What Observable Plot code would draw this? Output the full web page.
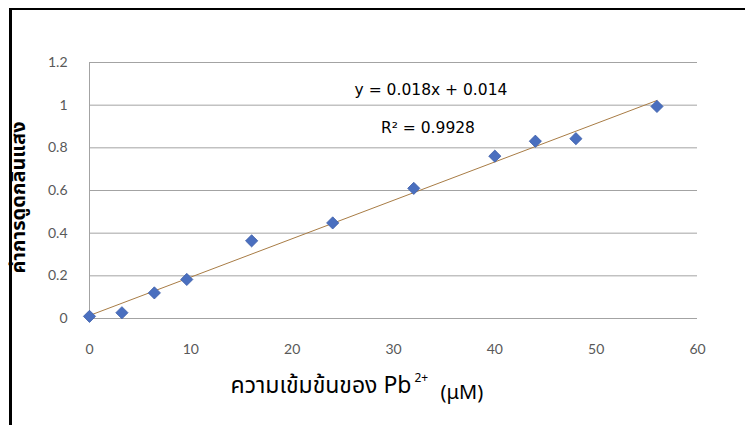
<!DOCTYPE html>
<html>
<head>
<meta charset="utf-8">
<script src="https://cdn.jsdelivr.net/npm/d3@7"></script>
<script src="https://cdn.jsdelivr.net/npm/@observablehq/plot@0.6"></script>
<style>
  html, body { margin: 0; padding: 0; background: #fff; }
  #wrap { position: relative; width: 745px; height: 425px; overflow: hidden; }
  #border { position: absolute; left: 9px; top: 8px; width: 745px; height: 430px;
            border-top: 2px solid #000; border-left: 3px solid #000; pointer-events: none; }
</style>
</head>
<body>
<div id="wrap"><div id="border"></div></div>
<script>
// Data
const concentration = [0, 3.2, 6.4, 9.6, 16, 24, 32, 40, 44, 48, 56];
const absorbance    = [0.01, 0.027, 0.12, 0.183, 0.364, 0.448, 0.61, 0.761, 0.831, 0.843, 0.994];
const slope = 0.018;
const intercept = 0.014;
const equationText = "y = 0.018x + 0.014";
const r2Text = "R² = 0.9928";
const xTicks = [0, 10, 20, 30, 40, 50, 60];
const yTicks = [0, 0.2, 0.4, 0.6, 0.8, 1, 1.2];
const yTickLabels = ["0", "0.2", "0.4", "0.6", "0.8", "1", "1.2"];
const yTitle = "ค่าการดูดกลืนแสง";
const xTitleMain = "ความเข้มข้นของ Pb";
const xTitleSup = "2+";
const xTitleUnit = "(μM)";

const points = concentration.map((x, i) => ({x, y: absorbance[i]}));
const trend = [0, 56].map(x => ({x, y: slope * x + intercept}));

const thai = "'Noto Sans Thai', 'Noto Sans', 'DejaVu Sans', sans-serif";
const tickFont = "Lato, 'Open Sans', sans-serif";

const chart = Plot.plot({
  width: 745,
  height: 425,
  marginLeft: 89,
  marginRight: 48,
  marginTop: 62,
  marginBottom: 107,
  style: {background: "transparent", overflow: "visible"},
  x: {domain: [0, 60], ticks: xTicks, tickSize: 0, tickPadding: 26, label: null},
  y: {domain: [0, 1.2], ticks: yTicks, tickSize: 0, tickPadding: 22, label: null,
      tickFormat: d => yTickLabels[yTicks.indexOf(d)]},
  marks: [
    Plot.gridY(yTicks, {stroke: "#a3a3a3", strokeOpacity: 1, strokeWidth: 1}),
    Plot.ruleX([0], {stroke: "#a3a3a3", strokeWidth: 1}),
    Plot.axisX({ticks: xTicks, tickSize: 0, tickPadding: 26, fontSize: 14, fill: "#595959", fontFamily: tickFont, label: null}),
    Plot.axisY({ticks: yTicks, tickSize: 0, tickPadding: 22, fontSize: 14, fill: "#595959", fontFamily: tickFont, label: null,
                tickFormat: d => yTickLabels[yTicks.indexOf(d)]}),
    Plot.line(trend, {x: "x", y: "y", stroke: "#a87c45", strokeWidth: 1}),
    Plot.dot(points, {x: "x", y: "y", symbol: "diamond2", r: 5.5, fill: "#4a6fbf", stroke: "#3d5ea8", strokeWidth: 0.8}),
    Plot.text([equationText], {x: 33.7, y: 1.069, text: d => d, fontSize: 15.5, fill: "#000", fontFamily: "'DejaVu Sans', sans-serif"}),
    Plot.text([r2Text], {x: 33.4, y: 0.895, text: d => d, fontSize: 15.5, fill: "#000", fontFamily: "'DejaVu Sans', sans-serif"}),
    Plot.text([yTitle], {frameAnchor: "left", textAnchor: "middle", dx: -71, dy: 7, rotate: -90, text: d => d, fontSize: 20, fontWeight: "bold", fill: "#000", fontFamily: thai}),
    Plot.text([xTitleMain], {frameAnchor: "bottom-left", dx: 322, dy: 74, textAnchor: "end", text: d => d, fontSize: 23, fill: "#000", fontFamily: thai}),
    Plot.text([xTitleSup], {frameAnchor: "bottom-left", dx: 325, dy: 63, textAnchor: "start", text: d => d, fontSize: 12, fill: "#000", fontFamily: thai}),
    Plot.text([xTitleUnit], {frameAnchor: "bottom-left", dx: 351, dy: 80, textAnchor: "start", text: d => d, fontSize: 20, fill: "#000", fontFamily: thai})
  ]
});
document.getElementById("wrap").prepend(chart);
</script>
</body>
</html>
